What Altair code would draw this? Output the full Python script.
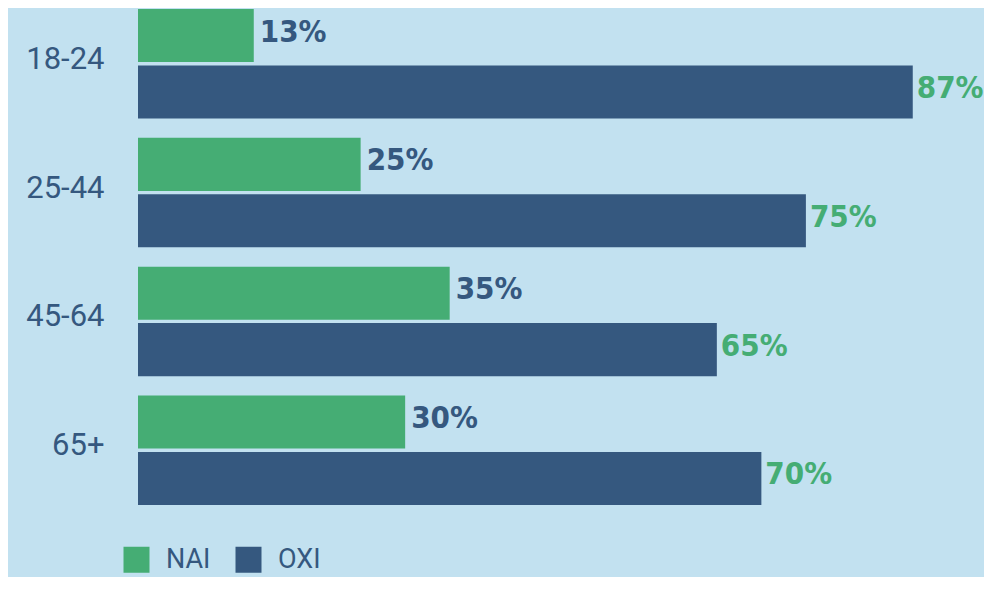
import altair as alt
import pandas as pd

groups = ["18-24", "25-44", "45-64", "65+"]
series = ["NAI", "OXI"]
nai_values = [13, 25, 35, 30]
oxi_values = [87, 75, 65, 70]

bg = "#C2E1F0"
green = "#45AD74"
navy = "#35587F"

rows = []
for g, v in zip(groups, nai_values):
    rows.append({"group": g, "series": "NAI", "value": v, "label": f"{v}%"})
for g, v in zip(groups, oxi_values):
    rows.append({"group": g, "series": "OXI", "value": v, "label": f"{v}%"})
df = pd.DataFrame(rows)

W, H = 846, 496

y_enc = alt.Y("group:N", sort=groups, title=None,
              scale=alt.Scale(paddingInner=0.15, paddingOuter=0),
              axis=alt.Axis(domain=False, ticks=False, labelFontSize=31,
                            labelFont="Roboto", labelColor=navy, labelPadding=34,
                            labelOffset=-4, labelFontWeight="normal"))
yoff = alt.YOffset("series:N", sort=series, scale=alt.Scale(paddingInner=0.06))
x_enc = alt.X("value:Q", scale=alt.Scale(domain=[0, 95], nice=False), axis=None)

base = alt.Chart(df)

bars = base.mark_bar().encode(
    x=x_enc, y=y_enc, yOffset=yoff,
    color=alt.Color("series:N", sort=series,
                    scale=alt.Scale(domain=series, range=[green, navy]),
                    legend=alt.Legend(title=None, orient="none", direction="horizontal",
                                      legendX=-15, legendY=537, symbolType="square",
                                      symbolSize=676, symbolStrokeWidth=0,
                                      symbolOpacity=1, labelFontSize=27,
                                      labelFont="Roboto", labelColor=navy,
                                      labelOffset=16, columnPadding=24, padding=0)),
)

lab_font = "DejaVu Sans Condensed, Roboto, sans-serif"
txt_nai = base.transform_filter(alt.datum.series == "NAI").mark_text(
    align="left", baseline="middle", dx=6, dy=-3, fontSize=31, fontWeight="bold",
    font=lab_font, color=navy).encode(x=x_enc, y=y_enc, yOffset=yoff, text="label:N")
txt_oxi = base.transform_filter(alt.datum.series == "OXI").mark_text(
    align="left", baseline="middle", dx=4, dy=-3, fontSize=31, fontWeight="bold",
    font=lab_font, color=green).encode(x=x_enc, y=y_enc, yOffset=yoff, text="label:N")

chart = alt.layer(bars, txt_nai, txt_oxi).properties(
    width=W, height=H,
    autosize=alt.AutoSizeParams(type="none"),
    padding={"left": 130, "top": 1, "right": 0, "bottom": 72},
).configure(background=bg).configure_view(stroke=None)

chart.save("out.html", embed_options={"renderer": "svg", "actions": False})
